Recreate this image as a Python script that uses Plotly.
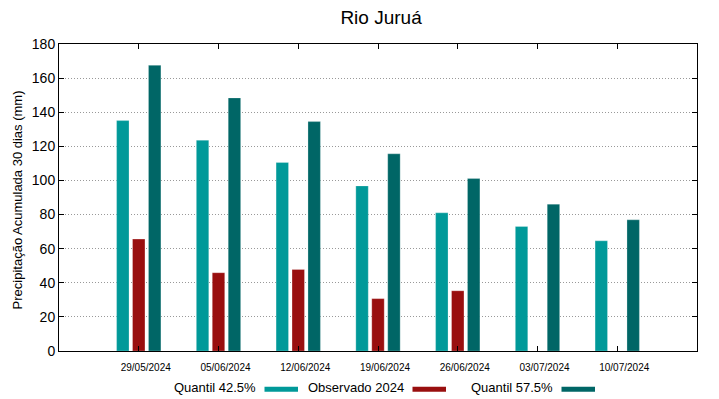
import plotly.graph_objects as go

categories = ["29/05/2024", "05/06/2024", "12/06/2024", "19/06/2024",
              "26/06/2024", "03/07/2024", "10/07/2024"]
q425 = [135.1, 123.6, 110.5, 96.8, 81.0, 73.0, 64.6]
obs2024 = [65.6, 45.9, 47.8, 30.7, 35.3, None, None]
q575 = [167.5, 148.4, 134.5, 115.6, 101.1, 86.1, 76.9]
series_names = ["Quantil 42.5%", "Observado 2024", "Quantil 57.5%"]
colors = ["#009999", "#990f0f", "#006666"]
yticks = [0, 20, 40, 60, 80, 100, 120, 140, 160, 180]

W, H = 719, 399
ml, mr, mt, mb = 59, 22, 43.5, 48.3
PW, PH = W - ml - mr, H - mt - mb

fig = go.Figure()
x_idx = list(range(len(categories)))
for name, vals, col in zip(series_names, [q425, obs2024, q575], colors):
    fig.add_trace(go.Bar(
        x=x_idx, y=vals, name=name,
        marker=dict(color=col, line=dict(color="rgba(255,255,255,0.5)", width=0.5)),
        showlegend=False,
    ))

fig.update_layout(
    width=W, height=H,
    margin=dict(l=ml, r=mr, t=mt, b=mb, autoexpand=False),
    paper_bgcolor="white", plot_bgcolor="white",
    font=dict(family="Liberation Sans, Arial, sans-serif", color="#000"),
    barmode="group", bargap=0.4, bargroupgap=0.22,
    title=dict(text="Rio Juruá", x=0.53, xanchor="center", y=1 - 17.5 / H,
               yanchor="middle", font=dict(size=19)),
    xaxis=dict(
        range=[-1, 7], tickmode="array", tickvals=x_idx, ticktext=categories,
        tickfont=dict(size=10), showgrid=False, zeroline=False, automargin=False,
        showline=True, linecolor="#000", linewidth=1, mirror="allticks",
        ticks="inside", ticklen=5, tickcolor="#000",
        ticklabelshift=7, ticklabelstandoff=7,
    ),
    yaxis=dict(
        range=[0, 180], tickmode="array", tickvals=yticks,
        tickfont=dict(size=14), showgrid=True, gridcolor="#999999",
        griddash="1px,2px", gridwidth=1, zeroline=False, automargin=False,
        showline=True, linecolor="#000", linewidth=1, mirror="allticks",
        ticks="inside", ticklen=5, tickcolor="#000",
    ),
)

# y-axis title
fig.add_annotation(
    xref="paper", yref="paper", x=(17 - ml) / PW, y=(H - mb - 200) / PH,
    text="Precipitação Acumulada 30 dias (mm)", textangle=-90,
    showarrow=False, xanchor="center", yanchor="middle", font=dict(size=13),
)

# custom legend (text followed by swatch), placed below the plot area
legend_items = [
    (series_names[0], colors[0], 257.5, 264.5),
    (series_names[1], colors[1], 405.5, 412.5),
    (series_names[2], colors[2], 555, 561.5),
]
ly = 387.5
for name, col, text_right, sw_left in legend_items:
    fig.add_annotation(
        xref="paper", yref="paper",
        x=(text_right - ml) / PW, y=(H - mb - ly) / PH,
        text=name, showarrow=False, xanchor="right", yanchor="middle",
        font=dict(size=13),
    )
    fig.add_shape(
        type="rect", xref="paper", yref="paper",
        x0=(sw_left - ml) / PW, x1=(sw_left + 33.5 - ml) / PW,
        y0=(H - mb - 391.5) / PH, y1=(H - mb - 386.5) / PH,
        fillcolor=col, line=dict(width=0),
    )

fig.write_html("out.html", config={"displayModeBar": False},
               post_script="document.body.style.margin='0';document.body.style.overflow='hidden';")
